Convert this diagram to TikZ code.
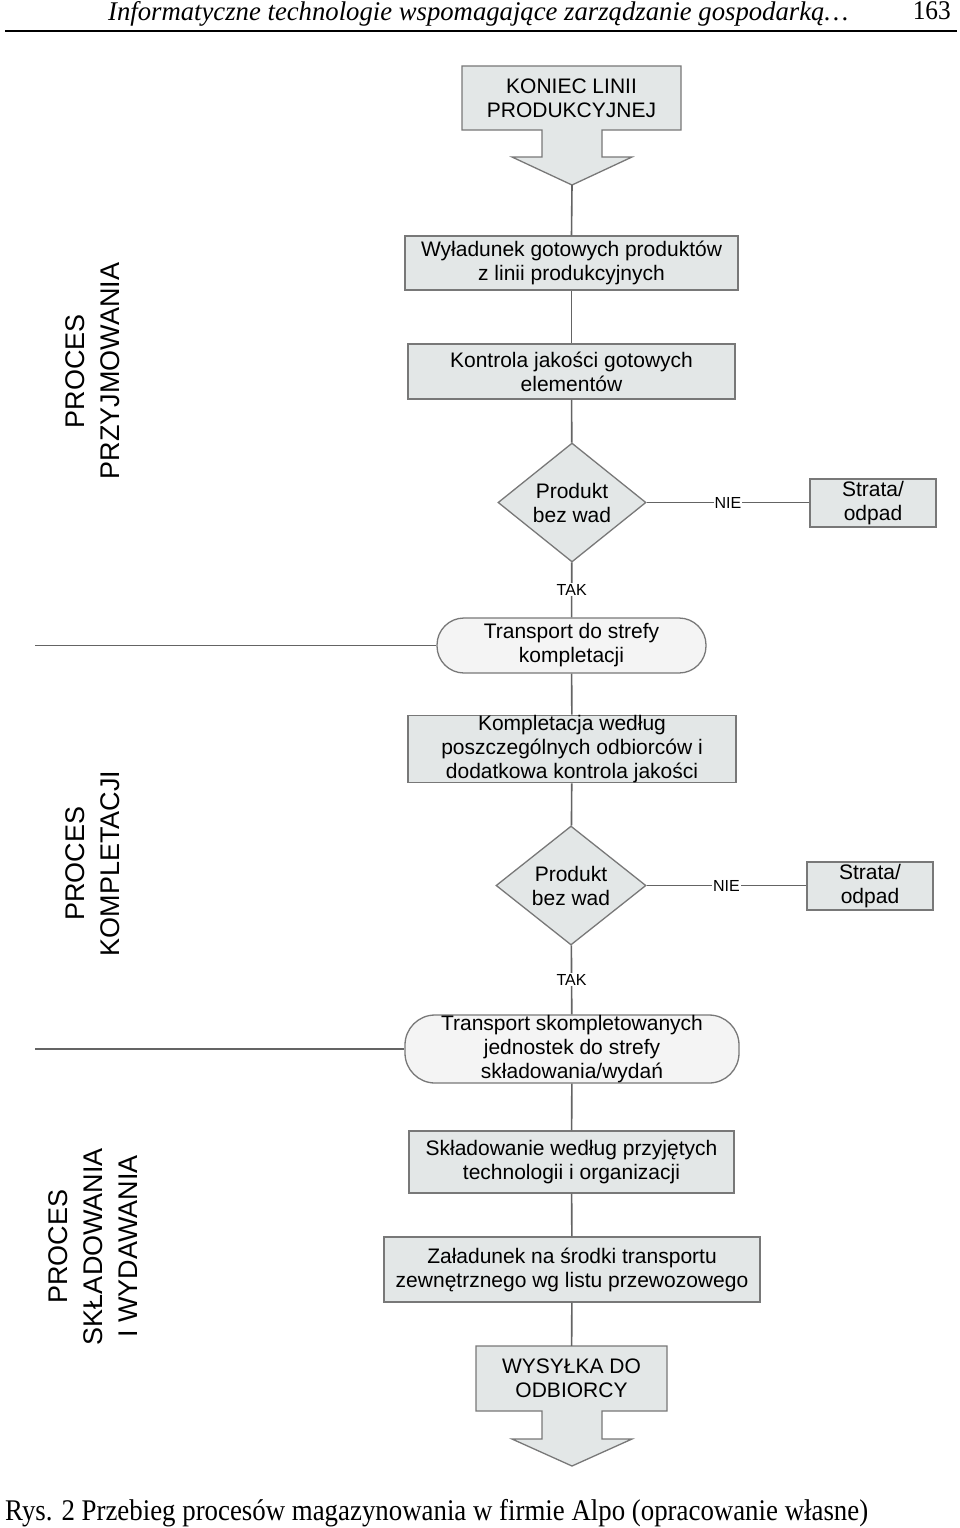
\documentclass[tikz,border=0pt]{standalone}
\usepackage{fontspec}
\setmainfont{Liberation Serif}
\setsansfont{Liberation Sans}
\usetikzlibrary{shapes.geometric}
\definecolor{boxfill}{RGB}{227,231,231}
\definecolor{boxline}{RGB}{120,120,120}
\definecolor{connc}{RGB}{100,100,100}
\definecolor{roundfill}{RGB}{244,244,244}
\begin{document}
\begin{tikzpicture}[x=1pt,y=-1pt,
  every node/.style={font=\sffamily\fontsize{21}{24}\selectfont, align=center, inner sep=0pt},
  procbox/.style={draw=boxline, fill=boxfill, line width=1.3pt},
  roundbox/.style={draw=boxline, fill=roundfill, line width=1.3pt},
  decbox/.style={shape=diamond, aspect=1.25, draw=boxline, fill=boxfill, line width=1.3pt},
  connline/.style={draw=connc, line width=1.6pt},
  lbl/.style={fill=white, inner sep=1pt, font=\sffamily\fontsize{16}{18}\selectfont},
  lanetxt/.style={rotate=90, font=\sffamily\fontsize{27}{35}\selectfont}]
\useasboundingbox (0,0) rectangle (960,1528);
\fill[white] (0,0) rectangle (960,1528);

% header
\node[anchor=base west, font=\rmfamily\itshape\fontsize{27}{30}\selectfont] (hdr) at (108,20)
  {\resizebox{740pt}{\height}{Informatyczne technologie wspomagające zarządzanie gospodarką…}};
\node[anchor=base east, font=\rmfamily\fontsize{27}{30}\selectfont] (pg) at (951,20)
  {\resizebox{38pt}{\height}{163}};
\draw[line width=2pt] (5,31) -- (957,31);

% top arrow
\draw[procbox] (462,66) -- (681,66) -- (681,130) -- (602,130) -- (602,157) -- (632,157)
  -- (572,185) -- (512,157) -- (542,157) -- (542,130) -- (462,130) -- cycle;
\node[minimum width=219pt, minimum height=64pt] (kon) at (571.5,98) {KONIEC LINII\\PRODUKCYJNEJ};
\coordinate (tip1) at (572,185);

% boxes
\node[procbox, minimum width=333pt, minimum height=54pt] (wyl) at (571.5,263)
  {Wyładunek gotowych produktów\\z linii produkcyjnych};
\node[procbox, minimum width=327pt, minimum height=55pt] (kj) at (571.5,371.5)
  {Kontrola jakości gotowych\\elementów};
\node[decbox, minimum width=148pt, minimum height=119pt] (d1) at (572,502.5)
  {Produkt\\bez wad};
\node[procbox, minimum width=126pt, minimum height=48pt] (s1) at (873,503)
  {Strata/\\odpad};
\node[roundbox, rounded corners=27pt, minimum width=269pt, minimum height=55pt] (t1) at (571.5,645.5)
  {Transport do strefy\\kompletacji};
\node[procbox, minimum width=328pt, minimum height=66pt] (komp) at (572,749)
  {Kompletacja według\\poszczególnych odbiorców i\\dodatkowa kontrola jakości};
\node[decbox, minimum width=150pt, minimum height=119pt] (d2) at (571,885.5)
  {Produkt\\bez wad};
\node[procbox, minimum width=126pt, minimum height=48pt] (s2) at (870,886)
  {Strata/\\odpad};
\node[roundbox, rounded corners=30pt, minimum width=334pt, minimum height=68pt] (t2) at (572,1049)
  {Transport skompletowanych\\jednostek do strefy\\składowania/wydań};
\node[procbox, minimum width=325pt, minimum height=62pt] (skl) at (571.5,1162)
  {Składowanie według przyjętych\\technologii i organizacji};
\node[procbox, minimum width=376pt, minimum height=65pt] (zal) at (572,1269.5)
  {Załadunek na środki transportu\\zewnętrznego wg listu przewozowego};

% bottom arrow
\draw[procbox] (476,1346) -- (667,1346) -- (667,1411) -- (602,1411) -- (602,1439) -- (632,1439)
  -- (572,1466) -- (512,1439) -- (542,1439) -- (542,1411) -- (476,1411) -- cycle;
\node[minimum width=191pt, minimum height=65pt] (wys) at (571.5,1378.5) {WYSYŁKA DO\\ODBIORCY};

% connectors
\draw[connline] (tip1) -- (wyl.north);
\draw[connline] (wyl) -- (kj);
\draw[connline] (kj) -- (d1);
\draw[connline] (d1.east) -- node[lbl] {NIE} (d1.east -| s1.west);
\draw[connline] (d1) -- node[lbl] {TAK} (t1);
\draw[connline] (t1) -- (komp);
\draw[connline] (komp) -- (d2);
\draw[connline] (d2.east) -- node[lbl] {NIE} (d2.east -| s2.west);
\draw[connline] (d2) -- node[lbl] {TAK} (t2);
\draw[connline] (t2) -- (skl);
\draw[connline] (skl) -- (zal);
\draw[connline] (zal) -- (wys);
\coordinate (l1) at (35,645.5);
\coordinate (l2) at (35,1049);
\draw[connline, line width=1.2pt] (l1) -- (t1.west);
\draw[connline, line width=1.2pt] (l2) -- (t2.west);

% lane labels
\node[lanetxt] (lane1) at (92.5,371) {PROCES\\PRZYJMOWANIA};
\node[lanetxt] (lane2) at (92.5,863.5) {PROCES\\KOMPLETACJI};
\node[lanetxt] (lane3) at (93,1246.5) {PROCES\\SKŁADOWANIA\\I WYDAWANIA};

% caption
\node[anchor=base west, font=\rmfamily\fontsize{30}{32}\selectfont] (cap) at (5,1520)
  {\resizebox{863pt}{\height}{Rys. 2 Przebieg procesów magazynowania w firmie Alpo (opracowanie własne)}};
\end{tikzpicture}
\end{document}
